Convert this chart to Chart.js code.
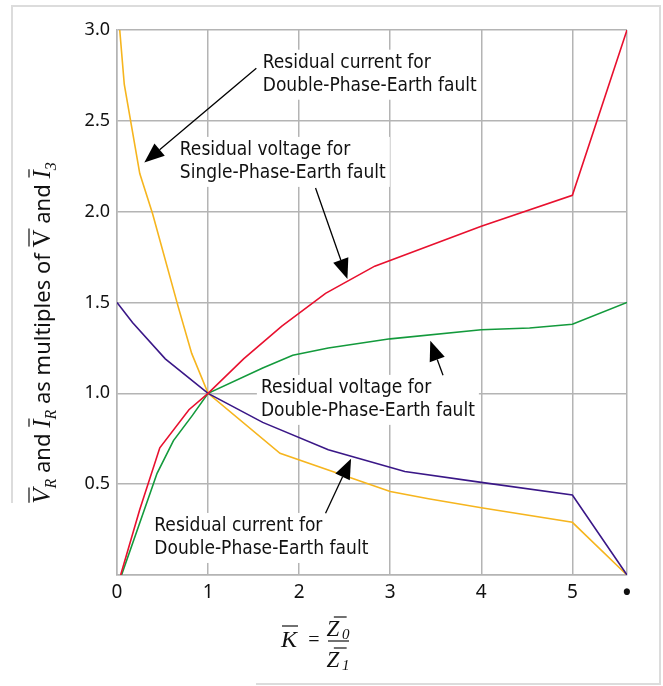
<!DOCTYPE html>
<html>
<head>
<meta charset="utf-8">
<script src="https://cdn.jsdelivr.net/npm/chart.js@4.4.0/dist/chart.umd.min.js"></script>
<style>
  html, body { margin: 0; padding: 0; background: #fff; }
  #wrap { width: 663px; height: 686px; }
</style>
</head>
<body>
<div id="wrap"><canvas id="faultChart" width="663" height="686"></canvas></div>
<script>
// K = Z0/Z1 values (5.6 stands for infinity, drawn as the last tick "•")
var kTicks = [0, 1, 2, 3, 4, 5, 5.6];
var kTickLabels = ['0', '1', '2', '3', '4', '5', '•'];
var yTicks = [0.5, 1.0, 1.5, 2.0, 2.5, 3.0];

// residual voltage, single-phase-earth fault (red)
var singleVoltK = [0.04, 0.25, 0.47, 0.79, 1, 1.39, 1.81, 2.29, 2.83, 4.0, 5.0, 5.6];
var singleVolt  = [0, 0.36, 0.70, 0.91, 1, 1.19, 1.37, 1.55, 1.70, 1.92, 2.09, 3.0];

// residual voltage, double-phase-earth fault (green)
var doubleVoltK = [0.05, 0.44, 0.62, 0.83, 1, 1.6, 1.93, 2.32, 3.0, 4.0, 4.53, 5.0, 5.6];
var doubleVolt  = [0, 0.56, 0.74, 0.88, 1, 1.14, 1.21, 1.25, 1.30, 1.35, 1.36, 1.38, 1.5];

// residual current (purple)
var currentAK = [0, 0.17, 0.53, 1, 1.6, 2.32, 3.16, 4.0, 5.0, 5.6];
var currentA  = [1.5, 1.39, 1.19, 1, 0.84, 0.69, 0.57, 0.51, 0.44, 0];

// residual current, double-phase-earth fault (yellow)
var currentBK = [0.03, 0.08, 0.25, 0.39, 0.67, 0.82, 1, 1.79, 3.0, 3.42, 4.0, 5.0, 5.6];
var currentB  = [3.0, 2.70, 2.21, 1.99, 1.48, 1.22, 1, 0.67, 0.46, 0.42, 0.37, 0.29, 0];

// annotation texts, with text anchor and arrow (from -> tip) in data units
var notes = [
    { lines: ['Residual current for', 'Double-Phase-Earth fault'], k: 1.60, y: 2.82, from: [1.53, 2.79], to: [0.30, 2.27] },
    { lines: ['Residual voltage for', 'Single-Phase-Earth fault'], k: 0.69, y: 2.34, from: [2.18, 2.13], to: [2.53, 1.63] },
    { lines: ['Residual voltage for', 'Double-Phase-Earth fault'], k: 1.58, y: 1.03, from: [3.58, 1.10], to: [3.44, 1.29] },
    { lines: ['Residual current for', 'Double-Phase-Earth fault'], k: 0.41, y: 0.27, from: [2.29, 0.34], to: [2.57, 0.64] }
];

function zip(xs, ys) {
    return xs.map(function (x, i) { return { x: x, y: ys[i] }; });
}

var noteFont = '19px "Liberation Sans Narrow", "DejaVu Sans Condensed", "Noto Sans", sans-serif';
var sansFont = '"Noto Sans", "Open Sans", sans-serif';
var serifFont = '"Liberation Serif", "DejaVu Serif", serif';

// draws a row of text pieces, optional overline / subscript
function drawPieces(c, pieces, x, y) {
    var total = 0;
    pieces.forEach(function (p) { c.font = p.font; p.w = c.measureText(p.t).width; total += p.w; });
    var cx = x - total / 2;
    pieces.forEach(function (p) {
        c.font = p.font;
        c.fillText(p.t, cx, y + (p.dy || 0));
        if (p.bar) {
            c.beginPath();
            c.lineWidth = 1.2;
            c.moveTo(cx + 1, y - p.bar);
            c.lineTo(cx + p.w + 1, y - p.bar);
            c.stroke();
        }
        cx += p.w;
    });
}

function arrow(c, x1, y1, x2, y2) {
    var ang = Math.atan2(y2 - y1, x2 - x1);
    var len = 20, half = 8;
    var bx = x2 - len * Math.cos(ang), by = y2 - len * Math.sin(ang);
    c.beginPath();
    c.lineWidth = 1.3;
    c.moveTo(x1, y1);
    c.lineTo(bx, by);
    c.stroke();
    c.beginPath();
    c.moveTo(x2, y2);
    c.lineTo(bx + half * Math.sin(ang), by - half * Math.cos(ang));
    c.lineTo(bx - half * Math.sin(ang), by + half * Math.cos(ang));
    c.closePath();
    c.fill();
}

var decorPlugin = {
    id: 'decor',
    beforeDraw: function (chart) {
        var c = chart.ctx;
        c.save();
        c.strokeStyle = '#dcdcdc';
        c.lineWidth = 2;
        c.beginPath();
        c.moveTo(12, 503); c.lineTo(12, 6); c.lineTo(660, 6); c.lineTo(660, 684); c.lineTo(256, 684);
        c.stroke();
        c.restore();
    },
    beforeDatasetsDraw: function (chart) {
        var c = chart.ctx, xs = chart.scales.x, ys = chart.scales.y;
        c.save();
        c.font = noteFont;
        c.textBaseline = 'middle';
        notes.forEach(function (n) {
            var x = xs.getPixelForValue(n.k), y = ys.getPixelForValue(n.y);
            var w = Math.max.apply(null, n.lines.map(function (l) { return c.measureText(l).width; }));
            c.fillStyle = '#fff';
            c.fillRect(x - 4, y - 13, w + 8, n.lines.length * 23 + 4);
            c.fillStyle = '#111';
            n.lines.forEach(function (l, i) { c.fillText(l, x, y + i * 23); });
        });
        c.restore();
    },
    afterDatasetsDraw: function (chart) {
        var c = chart.ctx, xs = chart.scales.x, ys = chart.scales.y;
        c.save();
        c.strokeStyle = '#000';
        c.fillStyle = '#000';
        notes.forEach(function (n) {
            arrow(c, xs.getPixelForValue(n.from[0]), ys.getPixelForValue(n.from[1]),
                  xs.getPixelForValue(n.to[0]), ys.getPixelForValue(n.to[1]));
        });

        // y axis title, rotated
        c.translate(42, 333);
        c.rotate(-Math.PI / 2);
        c.textBaseline = 'alphabetic';
        c.fillStyle = '#111';
        c.strokeStyle = '#111';
        var big = 'italic 25px ' + serifFont, sub = 'italic 16px ' + serifFont, txt = '22px ' + sansFont;
        drawPieces(c, [
            { t: 'V', font: big, bar: 21 }, { t: 'R', font: sub, dy: 6 },
            { t: ' and ', font: txt },
            { t: 'I', font: big, bar: 21 }, { t: 'R', font: sub, dy: 6 },
            { t: ' as multiples of ', font: txt },
            { t: 'V', font: '25px ' + serifFont, bar: 21 },
            { t: ' and ', font: txt },
            { t: 'I', font: big, bar: 21 }, { t: '3', font: sub, dy: 6 }
        ], 0, 8);
        c.setTransform(1, 0, 0, 1, 0, 0);

        // x axis title K = Z0 / Z1
        c.font = 'italic 24px ' + serifFont;
        c.textAlign = 'center';
        c.fillText('K', 289, 647);
        c.lineWidth = 1.2;
        c.beginPath(); c.moveTo(282, 626); c.lineTo(298, 626); c.stroke();
        c.font = '20px ' + serifFont;
        c.fillText('=', 314, 646);
        c.beginPath(); c.moveTo(328, 641); c.lineTo(349, 641); c.stroke();
        drawPieces(c, [{ t: 'Z', font: 'italic 23px ' + serifFont, bar: 19 }, { t: '0', font: 'italic 15px ' + serifFont, dy: 3 }], 343, 636);
        drawPieces(c, [{ t: 'Z', font: 'italic 23px ' + serifFont, bar: 19 }, { t: '1', font: 'italic 15px ' + serifFont, dy: 3 }], 343, 667);
        c.restore();
    }
};

var ctx = document.getElementById('faultChart');
var faultChart = new Chart(ctx, {
    type: 'line',
    data: {
        datasets: [{
            label: 'Residual voltage, Single-Phase-Earth fault',
            data: zip(singleVoltK, singleVolt),
            borderColor: '#e8102e'
        }, {
            label: 'Residual voltage, Double-Phase-Earth fault',
            data: zip(doubleVoltK, doubleVolt),
            borderColor: '#139a3c'
        }, {
            label: 'Residual current',
            data: zip(currentAK, currentA),
            borderColor: '#3a1787'
        }, {
            label: 'Residual current, Double-Phase-Earth fault',
            data: zip(currentBK, currentB),
            borderColor: '#f6b51e'
        }]
    },
    options: {
        responsive: false,
        animation: false,
        layout: { padding: { top: 30, right: 36, left: 0, bottom: 0 } },
        elements: {
            line: { borderWidth: 1.6, tension: 0 },
            point: { radius: 0 }
        },
        plugins: {
            legend: { display: false },
            tooltip: { enabled: false }
        },
        scales: {
            x: {
                type: 'linear',
                min: 0,
                max: 5.6,
                afterBuildTicks: function (scale) {
                    scale.ticks = kTicks.map(function (v) { return { value: v }; });
                },
                afterFit: function (scale) { scale.height = 111; },
                grid: { color: '#b4b4b4', lineWidth: 1.5, drawTicks: false },
                border: { color: '#b4b4b4', width: 1.5 },
                ticks: {
                    padding: 6,
                    color: '#111',
                    font: function (c) {
                        return c.tick && c.tick.value === 5.6
                            ? { family: sansFont, size: 22, weight: 'bold' }
                            : { family: sansFont, size: 19 };
                    },
                    maxRotation: 0,
                    autoSkip: false,
                    callback: function (v) { return kTickLabels[kTicks.indexOf(v)]; }
                }
            },
            y: {
                min: 0,
                max: 3,
                afterBuildTicks: function (scale) {
                    scale.ticks = [0].concat(yTicks).map(function (v) { return { value: v }; });
                },
                afterFit: function (scale) { scale.width = 117; },
                grid: { color: '#b4b4b4', lineWidth: 1.5, drawTicks: false },
                border: { color: '#b4b4b4', width: 1.5 },
                ticks: {
                    padding: 7,
                    color: '#111',
                    font: { family: sansFont, size: 18 },
                    callback: function (v) { return v === 0 ? '' : v.toFixed(1); }
                }
            }
        }
    },
    plugins: [decorPlugin]
});
</script>
</body>
</html>
